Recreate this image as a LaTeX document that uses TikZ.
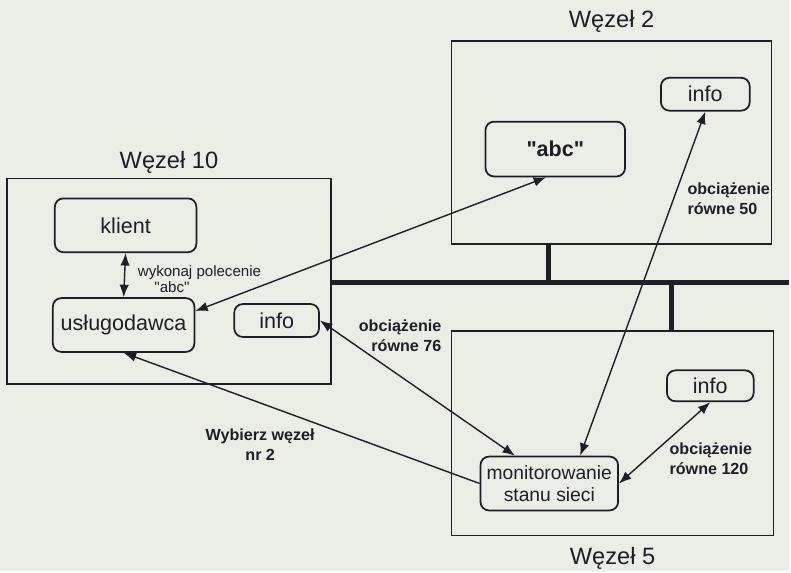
\documentclass[tikz,border=0pt]{standalone}
\usepackage{fontspec}
\newfontfamily\arial{Liberation Sans}
\usepackage{tikz}
\usetikzlibrary{arrows.meta}
\usetikzlibrary{positioning}
\usepackage{xcolor}
\definecolor{paper}{RGB}{234,238,229}
\definecolor{ink}{RGB}{30,30,38}

\tikzset{
	wezel/.style={draw=ink, line width=0.9pt, inner sep=0pt},
	proc/.style={draw=ink, line width=1pt, rounded corners=0.17cm, inner sep=0pt,
		text=ink, font=\arial\fontsize{12.3}{14}\selectfont},
	title/.style={text=ink, inner sep=2pt, font=\arial\fontsize{13.5}{15}\selectfont},
	note/.style={text=ink, inner sep=0pt, font=\arial\bfseries\fontsize{9.2}{11.5}\selectfont},
	bus/.style={draw=ink, line width=2.8pt},
	link/.style={draw=ink, line width=0.8pt}
}

\begin{document}
\begin{tikzpicture}[x=0.02cm,y=-0.02cm,>={Latex[length=2.5mm,width=1.9mm]}]
		
		% paper
		\fill[paper] (0,0) rectangle (791,573);
		
		% Node 10
		\node[wezel, minimum width=6.5cm, minimum height=4.12cm] (w10) at (169.5,282) {};
		\node[title, above=0.5pt of w10] (t10) {Węzeł 10};
		\node[proc, minimum width=2.84cm, minimum height=1.08cm] (klient) at (126,226) {klient};
		\node[proc, minimum width=2.84cm, minimum height=1.08cm] (usl) at (124,326) {usługodawca};
		\node[proc, minimum width=1.7cm, minimum height=0.66cm] (info10) at (277.5,321.5) {info};
		
		% Node 2
		\node[wezel, minimum width=6.42cm, minimum height=4.08cm] (w2) at (613.5,143) {};
		\node[title, above=2pt of w2] (t2) {Węzeł 2};
		\node[proc, font=\arial\bfseries\fontsize{12.3}{14}\selectfont,
			minimum width=2.8cm, minimum height=1.1cm] (abc) at (557,149.5) {"abc"};
		\node[proc, minimum width=1.78cm, minimum height=0.66cm] (info2) at (707.5,94.5) {info};
		
		% Node 5
		\node[wezel, minimum width=6.46cm, minimum height=4.1cm] (w5) at (614.5,434.5) {};
		\node[title, below=4pt of w5] (t5) {Węzeł 5};
		\node[proc, font=\arial\fontsize{11}{12.5}\selectfont, align=center,
			minimum width=2.76cm, minimum height=1.08cm] (mon) at (551,485) {monitorowanie\\stanu sieci};
		\node[proc, minimum width=1.74cm, minimum height=0.62cm] (info5) at (712.5,387) {info};
		
		% network bus
		\coordinate (busend) at (791,283);
		\coordinate (tap2) at (550,283);
		\coordinate (tap5) at (674,283);
		\draw[bus] (w10.east |- busend) -- (busend);
		\draw[bus] (tap2) -- (tap2 |- w2.south);
		\draw[bus] (tap5) -- (tap5 |- w5.north);
		
		% messages
		\draw[link,<->] (klient.south) -- (usl.north);
		\node[note, font=\arial\fontsize{8.6}{9.5}\selectfont, align=left, anchor=west]
			(cmd) at (138,280) {wykonaj polecenie\\\hspace*{1.1em}"abc"};
		\draw[link,<->] (usl.11) -- (abc.252);
		\draw[link,->] (mon.west) -- (usl.south);
		\draw[link,<->] (info10.east) -- (mon.141);
		\draw[link,<->] (info2.south) -- (mon.42);
		\draw[link,<->] (info5.south) -- (mon.east);
		
		% loads
		\node[note, align=right, anchor=east] (l76) at (443,337) {obciążenie\\równe 76};
		\node[note, align=left] (l50) at (731,199) {obciążenie\\równe 50};
		\node[note, align=left] (l120) at (713,460) {obciążenie\\równe 120};
		\node[note, align=center] (sel) at (261,446) {Wybierz węzeł\\nr 2};
		
	\end{tikzpicture}
\end{document}
